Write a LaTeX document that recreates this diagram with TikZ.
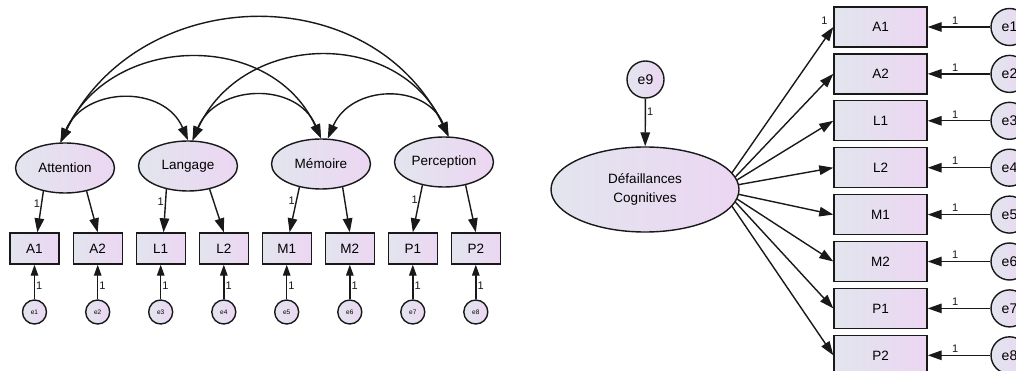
\documentclass[tikz,border=0pt]{standalone}
\usepackage{fontspec}
\setmainfont{Liberation Sans}
\usetikzlibrary{arrows.meta,shapes.geometric}
\definecolor{lc}{RGB}{226,229,238}
\definecolor{rc}{RGB}{236,214,242}
\definecolor{ink}{RGB}{25,25,25}
\tikzset{
  shadefill/.style={left color=lc, right color=rc, draw=ink, line width=1.4pt},
  lat/.style={ellipse, shadefill, minimum width=99pt, minimum height=50pt, inner sep=0pt, font=\fontsize{13.5}{15}\selectfont},
  obs/.style={rectangle, shadefill, minimum width=49pt, minimum height=31pt, inner sep=0pt, font=\fontsize{13.5}{15}\selectfont},
  err/.style={circle, shadefill, minimum size=24pt, inner sep=0pt, font=\fontsize{6.5}{7}\selectfont},
  rlat/.style={ellipse, shadefill, minimum width=188pt, minimum height=85pt, inner sep=0pt, align=center, font=\fontsize{13.5}{18.5}\selectfont},
  robs/.style={rectangle, shadefill, minimum width=93pt, minimum height=40pt, inner sep=0pt, font=\fontsize{13.5}{15}\selectfont},
  rerr/.style={circle, shadefill, minimum size=37pt, inner sep=0pt, font=\fontsize{14}{15}\selectfont},
  lbl/.style={font=\fontsize{11}{12}\selectfont, inner sep=1pt, text=ink},
  arr/.style={draw=ink, line width=1.4pt, -{Triangle[length=14pt,width=9.5pt]}},
  sarr/.style={draw=ink, line width=1.4pt, -{Triangle[length=11pt,width=7.5pt]}},
  cov/.style={draw=ink, line width=1.4pt, {Triangle[length=14pt,width=9.5pt]}-{Triangle[length=14pt,width=9.5pt]}}
}
\begin{document}
\begin{tikzpicture}[x=1pt,y=-1pt]
\fill[white] (0,0) rectangle (1016,371);
\useasboundingbox (0,0) rectangle (1016,371);
% ---------- left model ----------
\node[lat] (att) at (65,168) {Attention};
\node[lat] (lan) at (188,166) {Langage};
\node[lat] (mem) at (321,164) {Mémoire};
\node[lat] (per) at (444,162) {Perception};
\node[obs] (A1) at (34.5,248.5) {A1};
\node[obs] (A2) at (97.7,248.5) {A2};
\node[obs] (L1) at (160.7,248.5) {L1};
\node[obs] (L2) at (223.8,248.5) {L2};
\node[obs] (M1) at (286.7,248.5) {M1};
\node[obs] (M2) at (349.8,248.5) {M2};
\node[obs] (P1) at (412.8,248.5) {P1};
\node[obs] (P2) at (475.8,248.5) {P2};
\node[err] (e1) at (34.5,312) {e1};
\node[err] (e2) at (97.7,312) {e2};
\node[err] (e3) at (160.7,312) {e3};
\node[err] (e4) at (223.8,312) {e4};
\node[err] (e5) at (286.7,312) {e5};
\node[err] (e6) at (349.8,312) {e6};
\node[err] (e7) at (412.8,312) {e7};
\node[err] (e8) at (475.8,312) {e8};
% covariances
\draw[cov] (att.100) .. controls +(24,-56) and +(-24,-56) .. (lan.north);
\draw[cov] (att.100) .. controls +(50,-109) and +(-50,-109) .. (mem.north);
\draw[cov] (att.100) .. controls +(78,-160) and +(-78,-160) .. (per.80);
\draw[cov] (lan.80) .. controls +(24,-57) and +(-24,-57) .. (mem.north);
\draw[cov] (lan.80) .. controls +(50,-109) and +(-50,-109) .. (per.80);
\draw[cov] (mem.75) .. controls +(23,-54) and +(-23,-54) .. (per.80);
% loadings
\draw[arr] (att.227) -- (A1.80) node[lbl,pos=0.3,left] {1};
\draw[arr] (att.313) -- (A2.north);
\draw[arr] (lan.227) -- (L1.80) node[lbl,pos=0.3,left] {1};
\draw[arr] (lan.313) -- (L2.north);
\draw[arr] (mem.227) -- (M1.80) node[lbl,pos=0.3,left] {1};
\draw[arr] (mem.313) -- (M2.north);
\draw[arr] (per.227) -- (P1.north) node[lbl,pos=0.3,left] {1};
\draw[arr] (per.313) -- (P2.north);
% errors
\foreach \e/\b in {e1/A1,e2/A2,e3/L1,e4/L2,e5/M1,e6/M2,e7/P1,e8/P2}
  \draw[sarr] (\e.north) -- (\b.south) node[lbl,pos=0.38,right] {1};
% ---------- right model ----------
\node[rlat] (def) at (645,189.5) {Défaillances\\Cognitives};
\node[rerr] (e9) at (645.5,79.5) {e9};
\draw[arr] (e9) -- (def) node[lbl,pos=0.28,right] {1};
\node[robs] (rA1) at (880.5,27) {A1};
\node[robs] (rA2) at (880.5,73.9) {A2};
\node[robs] (rL1) at (880.5,120.8) {L1};
\node[robs] (rL2) at (880.5,167.7) {L2};
\node[robs] (rM1) at (880.5,214.6) {M1};
\node[robs] (rM2) at (880.5,261.5) {M2};
\node[robs] (rP1) at (880.5,308.4) {P1};
\node[robs] (rP2) at (880.5,355.3) {P2};
\node[rerr] (re1) at (1009.5,27) {e1};
\node[rerr] (re2) at (1009.5,73.9) {e2};
\node[rerr] (re3) at (1009.5,120.8) {e3};
\node[rerr] (re4) at (1009.5,167.7) {e4};
\node[rerr] (re5) at (1009.5,214.6) {e5};
\node[rerr] (re6) at (1009.5,261.5) {e6};
\node[rerr] (re7) at (1009.5,308.4) {e7};
\node[rerr] (re8) at (1009.5,355.3) {e8};
\draw[arr] (def.11) -- (rA1.west) node[lbl,pos=1,xshift=-9pt,yshift=6pt] {1};
\draw[arr] (def.8.5) -- (rA2.west);
\draw[arr] (def.6) -- (rL1.west);
\draw[arr] (def.3) -- (rL2.west);
\draw[arr] (def.-3) -- (rM1.west);
\draw[arr] (def.-6) -- (rM2.west);
\draw[arr] (def.-8.5) -- (rP1.west);
\draw[arr] (def.-11) -- (rP2.west);
\foreach \e/\b in {re1/rA1,re2/rA2,re3/rL1,re4/rL2,re5/rM1,re6/rM2,re7/rP1,re8/rP2}
  \draw[arr] (\e) -- (\b) node[lbl,pos=0.56,above=1pt] {1};
\end{tikzpicture}
\end{document}
